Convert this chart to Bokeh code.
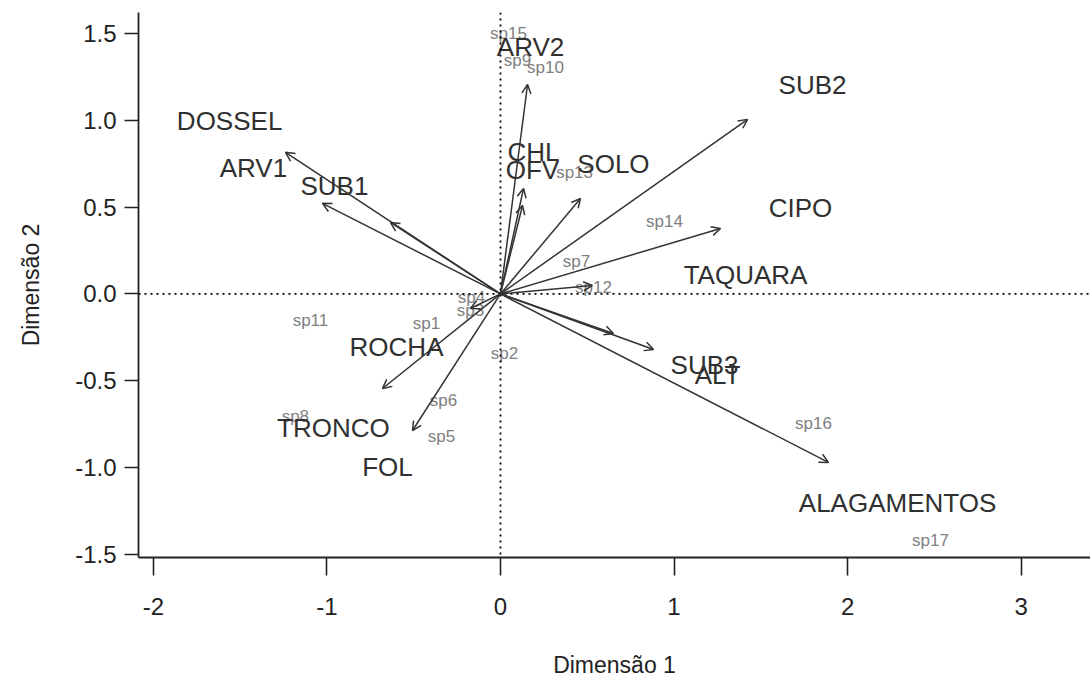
from bokeh.plotting import figure
from bokeh.models import ColumnDataSource, Arrow, OpenHead, Span, FixedTicker
from bokeh.core.properties import value
from bokeh.embed import file_html
from bokeh.resources import INLINE

# Environmental variables: arrow tips and label positions
env_arrow_x = [-1.239, -1.026, -0.634, 0.156, 0.133, 0.127, 0.461, 1.424, 1.268, 0.530, 0.651, 0.882, 1.890, -0.680, -0.507, -0.173]
env_arrow_y = [0.816, 0.522, 0.412, 1.207, 0.608, 0.510, 0.550, 1.006, 0.377, 0.049, -0.228, -0.320, -0.971, -0.545, -0.787, -0.084]

env_labels = ["DOSSEL", "ARV1", "SUB1", "ARV2", "CHL", "OFV", "SOLO", "SUB2", "CIPO",
              "TAQUARA", "SUB3", "ALT", "ALAGAMENTOS", "ROCHA", "TRONCO", "FOL"]
env_label_x = [-1.561, -1.424, -0.957, 0.173, 0.190, 0.184, 0.651, 1.798, 1.729,
               1.412, 1.176, 1.251, 2.288, -0.599, -0.963, -0.651]
env_label_y = [0.994, 0.723, 0.620, 1.421, 0.816, 0.712, 0.746, 1.202, 0.493,
               0.107, -0.412, -0.470, -1.207, -0.308, -0.775, -1.000]

# Species scores
sp_labels = ["sp1", "sp2", "sp3", "sp4", "sp5", "sp6", "sp7", "sp8", "sp9", "sp10",
             "sp11", "sp12", "sp13", "sp14", "sp15", "sp16", "sp17"]
sp_x = [-0.427, 0.023, -0.173, -0.167, -0.340, -0.329, 0.438, -1.182, 0.098, 0.259,
        -1.095, 0.536, 0.427, 0.945, 0.046, 1.804, 2.478]
sp_y = [-0.170, -0.343, -0.095, -0.020, -0.821, -0.614, 0.187, -0.706, 1.346, 1.305,
        -0.153, 0.037, 0.700, 0.418, 1.501, -0.746, -1.421]

x_ticks = [-2, -1, 0, 1, 2, 3]
y_ticks = [-1.5, -1.0, -0.5, 0.0, 0.5, 1.0, 1.5]
y_tick_labels = ["-1.5", "-1.0", "-0.5", "0.0", "0.5", "1.0", "1.5"]

FONT = "Liberation Sans"

p = figure(width=1090, height=688, x_range=(-2.086, 3.40), y_range=(-1.519, 1.622),
           output_backend="svg", toolbar_location=None,
           min_border_left=138, min_border_right=0, min_border_top=12, min_border_bottom=131)
p.outline_line_color = None
p.xgrid.visible = False
p.ygrid.visible = False
p.background_fill_color = "white"
p.border_fill_color = "white"

# zero reference lines
p.add_layout(Span(location=0, dimension="width", line_color="black", line_dash="2 4", line_width=1.8))
p.add_layout(Span(location=0, dimension="height", line_color="black", line_dash="2 4", line_width=1.8))

# arrows
asrc = ColumnDataSource(dict(x0=[0.0] * len(env_arrow_x), y0=[0.0] * len(env_arrow_y),
                             x1=env_arrow_x, y1=env_arrow_y))
p.add_layout(Arrow(end=OpenHead(size=9, line_color="#333333", line_width=1.5),
                   x_start="x0", y_start="y0", x_end="x1", y_end="y1", source=asrc,
                   line_color="#333333", line_width=1.5))

# species labels
ssrc = ColumnDataSource(dict(x=sp_x, y=sp_y, t=sp_labels))
p.text(x="x", y="y", text="t", source=ssrc, text_font=value(FONT), text_font_size="17px",
       text_color="#808080", text_align="center", text_baseline="middle")

# env labels
esrc = ColumnDataSource(dict(x=env_label_x, y=env_label_y, t=env_labels))
p.text(x="x", y="y", text="t", source=esrc, text_font=value(FONT), text_font_size="26px",
       text_color="#303030", text_align="center", text_baseline="middle")

# axes
p.xaxis.ticker = FixedTicker(ticks=x_ticks)
p.yaxis.ticker = FixedTicker(ticks=y_ticks)
p.yaxis.major_label_overrides = {t: l for t, l in zip(y_ticks, y_tick_labels)}
p.xaxis.major_label_overrides = {t: str(t) for t in x_ticks}
for ax in (p.xaxis, p.yaxis):
    ax.minor_tick_line_color = None
    ax.axis_line_color = "#222222"
    ax.axis_line_width = 1.8
    ax.major_tick_line_color = "#222222"
    ax.major_tick_line_width = 1.6
    ax.major_tick_in = 0
    ax.major_label_text_font = FONT
    ax.major_label_text_font_size = "24px"
    ax.major_label_text_color = "#222222"
    ax.axis_label_text_font = FONT
    ax.axis_label_text_font_size = "23px"
    ax.axis_label_text_font_style = "normal"
    ax.axis_label_text_color = "#222222"
p.xaxis.major_tick_out = 18
p.yaxis.major_tick_out = 14
p.xaxis.major_label_standoff = 22
p.yaxis.major_label_standoff = 8
p.yaxis.major_label_orientation = "horizontal"
p.xaxis.axis_label = "Dimensão 1"
p.yaxis.axis_label = "Dimensão 2"
p.xaxis.axis_label_standoff = 34
p.yaxis.axis_label_standoff = 28

open("out.html", "w").write(file_html(p, INLINE))
